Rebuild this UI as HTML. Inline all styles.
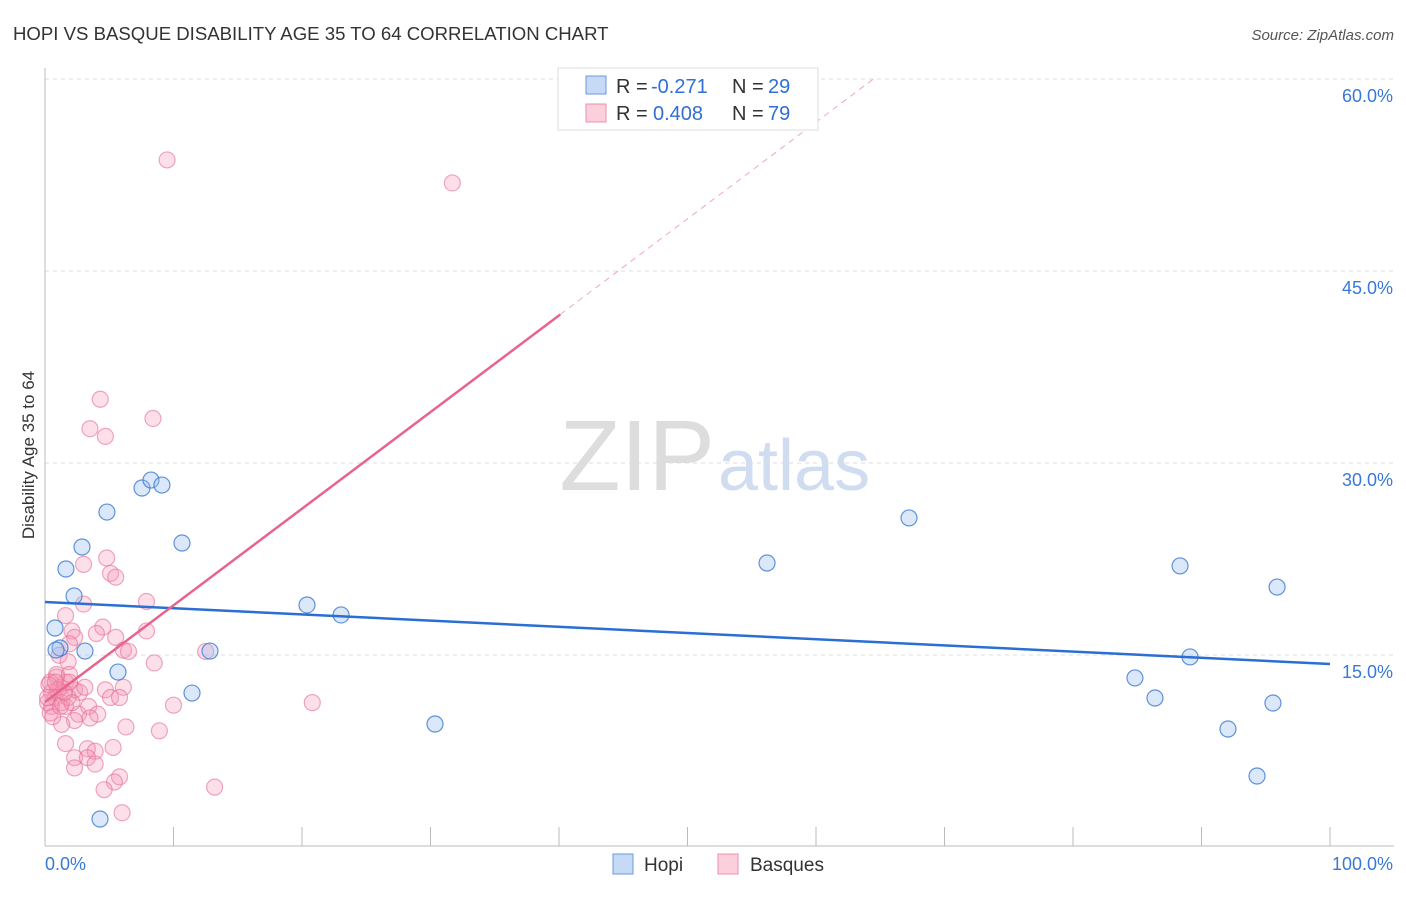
<!DOCTYPE html>
<html><head><meta charset="utf-8"><style>
body{margin:0;background:#fff;font-family:"Liberation Sans",sans-serif;}
svg text{font-family:"Liberation Sans",sans-serif;}
</style></head><body>
<svg id="chart" width="1406" height="892">
<text x="13" y="40" font-size="18.6" fill="#333">HOPI VS BASQUE DISABILITY AGE 35 TO 64 CORRELATION CHART</text>
<text x="1394" y="40" font-size="15" fill="#555" font-style="italic" text-anchor="end">Source: ZipAtlas.com</text>
<text x="34" y="455" font-size="17" fill="#333" transform="rotate(-90 34 455)" text-anchor="middle">Disability Age 35 to 64</text>
<text x="715" y="490" font-size="100" fill="#ddd" text-anchor="end" font-family="Liberation Serif">ZIP</text>
<text x="718" y="490" font-size="72" fill="#d0dcf0">atlas</text>
<g id="grid"></g><g id="axes"></g><g id="pts"></g><g id="lines"></g>
<g>
<rect x="558" y="68" width="260" height="62" fill="#fff" stroke="#ddd"/>
<rect x="586" y="76" width="20" height="18" fill="#c6d9f5" stroke="#6a9ae0"/>
<text y="93" font-size="20" fill="#333"><tspan x="616">R =</tspan><tspan x="651" fill="#2f6fd6">-0.271</tspan><tspan x="732">N =</tspan><tspan x="768" fill="#2f6fd6">29</tspan></text>
<rect x="586" y="104" width="20" height="18" fill="#fbd0dc" stroke="#ee90aa"/>
<text y="120" font-size="20" fill="#333"><tspan x="616">R =</tspan><tspan x="653" fill="#2f6fd6">0.408</tspan><tspan x="732">N =</tspan><tspan x="768" fill="#2f6fd6">79</tspan></text>
</g>
<g>
<rect x="613" y="854" width="20" height="20" fill="#c6d9f5" stroke="#6a9ae0"/>
<text x="644" y="871" font-size="19" fill="#333">Hopi</text>
<rect x="718" y="854" width="20" height="20" fill="#fbd0dc" stroke="#ee90aa"/>
<text x="750" y="871" font-size="19" fill="#333">Basques</text>
</g>
</svg>
<script>
const yTicks=[15,30,45,60];
const yTickLabels=["15.0%","30.0%","45.0%","60.0%"];
const xTickLabels=["0.0%","100.0%"];
const hopiX=[0.78,1.63,2.26,2.88,4.82,1.17,3.11,5.68,7.55,8.25,9.10,10.66,12.84,11.44,20.39,23.04,30.35,4.28,56.19,67.24,84.82,86.38,88.33,89.11,92.06,94.32,95.56,95.88,0.86];
const hopiY=[17.03,21.64,19.53,23.36,26.09,15.47,15.23,13.59,27.97,28.59,28.20,23.67,15.23,11.95,18.83,18.05,9.53,2.11,22.11,25.63,13.13,11.56,21.88,14.77,9.14,5.47,11.17,20.23,15.31];
const basX=[9.5,31.7,4.3,8.4,3.5,4.7,4.8,3.0,5.1,5.5,7.9,3.0,1.6,7.9,4.5,2.1,4.0,2.3,1.9,5.5,6.1,1.1,6.5,8.5,12.5,1.2,0.5,0.8,0.2,0.5,1.6,2.3,2.7,3.1,0.9,1.9,1.3,0.4,6.1,4.7,5.1,10.0,20.8,2.6,1.6,3.4,4.1,6.3,8.9,2.3,1.6,5.3,3.3,3.9,2.3,3.3,3.9,2.3,5.8,5.4,4.6,13.2,6.0,1.3,1.8,0.9,1.9,0.2,0.4,1.0,1.8,0.6,1.2,3.5,5.8,0.3,2.1,1.5,0.8];
const basY=[53.6,51.8,34.9,33.4,32.6,32.0,22.5,22.0,21.3,21.0,19.1,18.9,18.0,16.8,17.1,16.8,16.6,16.3,15.8,16.3,15.3,14.9,15.2,14.3,15.2,12.4,12.0,11.6,11.2,10.9,12.8,12.2,12.0,12.4,13.4,12.8,11.2,10.4,12.4,12.2,11.6,11.0,11.2,10.3,10.9,10.9,10.3,9.3,9.0,9.8,8.0,7.7,7.6,7.4,6.9,6.9,6.4,6.1,5.4,5.0,4.4,4.6,2.6,9.5,14.4,13.2,13.4,11.6,12.8,12.2,11.6,10.1,10.9,10.0,11.6,12.6,11.2,12.0,12.8];
const hopiTrend=[19.06,14.22];
const basTrend=[11.25,0.755];
const X=v=>45+v*12.85, Y=v=>846-v*12.8;
const NS="http://www.w3.org/2000/svg";
function mk(t,a,p){const e=document.createElementNS(NS,t);for(const k in a)e.setAttribute(k,a[k]);p.appendChild(e);return e;}
const grid=document.getElementById('grid'),axes=document.getElementById('axes');
yTicks.forEach((t,i)=>{
 const g=mk('line',{x1:45,x2:1394,y1:Y(t)+1,y2:Y(t)+1,stroke:'#ddd','stroke-dasharray':'4,4'},grid);
 
 
 const l=mk('text',{x:1393,y:Y(t)+24,'font-size':18,fill:'#3a78d6','text-anchor':'end'},axes);
 l.textContent=yTickLabels[i];
 
 
});
const ax=mk('line',{x1:45,x2:45,y1:68,y2:846,stroke:'#bbb'},axes);


const bx=mk('line',{x1:45,x2:1394,y1:846,y2:846,stroke:'#bbb'},axes);


for(let i=0;i<=10;i++){const t=mk('line',{x1:X(i*10),x2:X(i*10),y1:827,y2:846,stroke:'#bbb'},axes);
 
 }
[[0,'start',45],[100,'end',1393]].forEach((d,i)=>{const t=mk('text',{x:d[2],y:870,'font-size':18,fill:'#3a78d6','text-anchor':d[1]},axes);t.textContent=xTickLabels[i];
 
 });
const pts=document.getElementById('pts');
basX.forEach((x,i)=>{const c=mk('circle',{cx:X(x),cy:Y(basY[i]),r:8,fill:'rgba(244,150,180,0.3)',stroke:'rgba(230,110,150,0.6)','stroke-width':1.2},pts);
 
 });
hopiX.forEach((x,i)=>{const c=mk('circle',{cx:X(x),cy:Y(hopiY[i]),r:8,fill:'rgba(150,190,240,0.35)',stroke:'rgba(60,120,210,0.8)','stroke-width':1.2},pts);
 
 });
const ln=document.getElementById('lines');
const h=mk('line',{x1:X(0),y1:Y(hopiTrend[0]),x2:X(100),y2:Y(hopiTrend[1]),stroke:'#2a6fd4','stroke-width':2.5},ln);


const bE=40.1, bD=64.6;
const b=mk('line',{x1:X(0),y1:Y(basTrend[0]),x2:X(bE),y2:Y(basTrend[0]+basTrend[1]*bE),stroke:'#e8638e','stroke-width':2.5},ln);


const bd=mk('line',{x1:X(bE),y1:Y(basTrend[0]+basTrend[1]*bE),x2:X(bD),y2:Y(basTrend[0]+basTrend[1]*bD),stroke:'#f0a8c0','stroke-width':1,'stroke-dasharray':'6,5'},ln);


</script>
</body></html>
